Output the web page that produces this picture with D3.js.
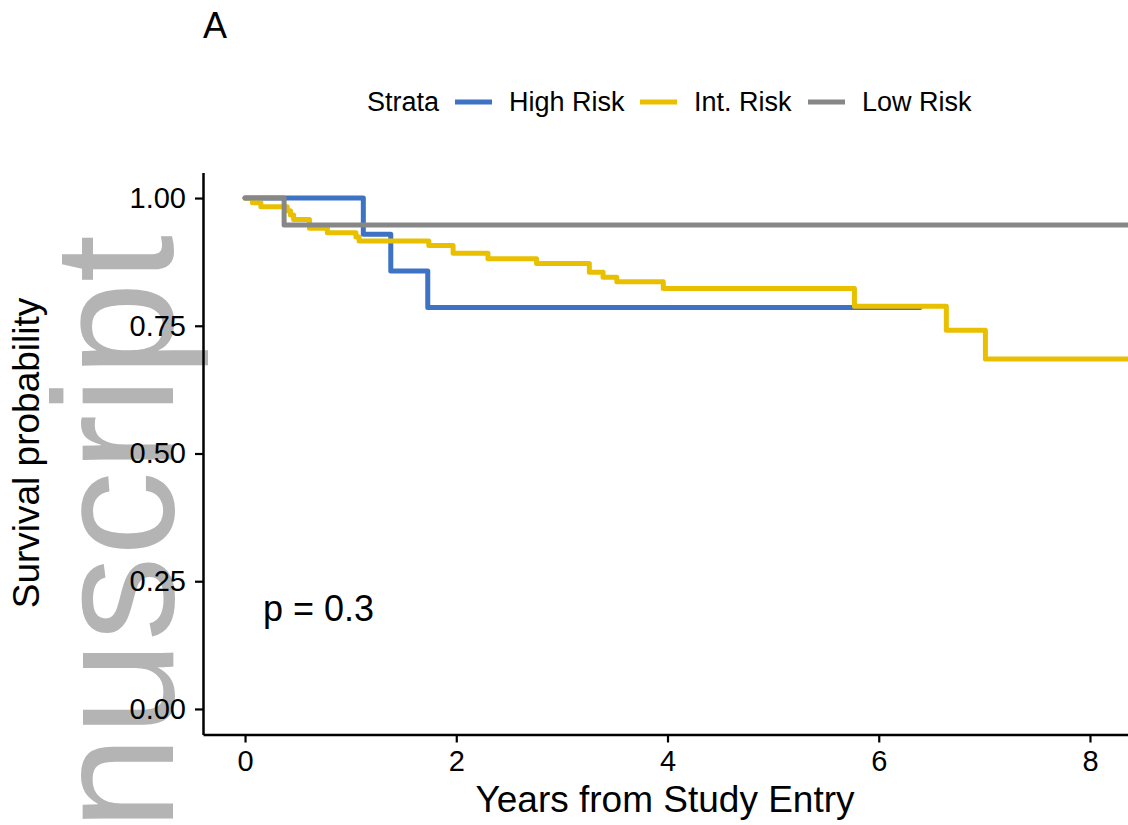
<html>
<head>
<script type="text/javascript" src="https://d3js.org/d3.v7.min.js"></script>
<style>
    body { margin: 0; background: #ffffff; }
    text { font-family: 'Liberation Sans', Arial, sans-serif; fill: #000000; }
</style>
</head>
<body>
<svg id="km" width="1128" height="825"></svg>
<script type="text/javascript">
// data
var strata = ["High Risk", "Int. Risk", "Low Risk"];
var colors = ["#3d72c4", "#e8c000", "#878787"];

var highTime = [0, 1.12, 1.38, 1.73, 6.39];
var highSurv = [1, 0.929, 0.857, 0.786, 0.786];

var intTime = [0, 0.07, 0.15, 0.40, 0.43, 0.46, 0.61, 0.78, 1.05, 1.08, 1.74, 1.97,
               2.30, 2.76, 3.26, 3.39, 3.52, 3.96, 5.77, 6.64, 7.01, 8.36];
var intSurv = [1, 0.991, 0.983, 0.975, 0.967, 0.958, 0.941, 0.932, 0.924, 0.916, 0.907, 0.892,
               0.881, 0.872, 0.855, 0.845, 0.836, 0.823, 0.788, 0.741, 0.685, 0.685];

var lowTime = [0, 0.37, 8.36];
var lowSurv = [1, 0.947, 0.947];

var xTicks = [0, 2, 4, 6, 8];
var yTicks = [0, 0.25, 0.5, 0.75, 1];
var pLabel = "p = 0.3";

var svg = d3.select("#km");

// scales: 0 -> 245px, 8 -> 1090px ; 0 -> 709px, 1 -> 198px
var x = d3.scaleLinear().domain([-0.398, 8.36]).range([203, 1128]);
var y = d3.scaleLinear().domain([-0.05, 1.05]).range([734.5, 172.5]);

// watermark behind everything
svg.append("text")
    .attr("transform", "translate(173,235) rotate(-90)")
    .attr("text-anchor", "end")
    .style("font-size", "170px")
    .style("fill", "#b4b4b4")
    .text("Author Manuscript");

// title letter
svg.append("text")
    .attr("x", 203).attr("y", 38)
    .style("font-size", "36px")
    .text("A");

// legend
var legend = svg.append("g");
legend.append("text").attr("x", 367).attr("y", 111).style("font-size", "27px").text("Strata");
var legX = [455, 640, 808];
strata.forEach(function(s, i) {
    legend.append("line")
        .attr("x1", legX[i]).attr("x2", legX[i] + 37)
        .attr("y1", 102).attr("y2", 102)
        .attr("stroke", colors[i]).attr("stroke-width", 5);
    legend.append("text")
        .attr("x", legX[i] + 54).attr("y", 111)
        .style("font-size", "27px")
        .text(s);
});

// curves
var line = d3.line()
    .x(function(d) { return x(d[0]); })
    .y(function(d) { return y(d[1]); })
    .curve(d3.curveStepAfter);

var series = [
    d3.zip(highTime, highSurv),
    d3.zip(intTime, intSurv),
    d3.zip(lowTime, lowSurv)
];

svg.append("g").selectAll("path")
    .data(series)
    .enter()
    .append("path")
    .attr("d", line)
    .attr("fill", "none")
    .attr("stroke", function(d, i) { return colors[i]; })
    .attr("stroke-width", 5)
    .attr("stroke-linejoin", "round")
    .attr("stroke-linecap", "round");

// axes
var xAxis = svg.append("g")
    .attr("transform", "translate(0,734.5)")
    .call(d3.axisBottom(x).tickValues(xTicks).tickSize(8).tickPadding(8).tickSizeOuter(0));
var yAxis = svg.append("g")
    .attr("transform", "translate(203,0)")
    .call(d3.axisLeft(y).tickValues(yTicks).tickFormat(d3.format(".2f")).tickSize(8).tickPadding(9).tickSizeOuter(0));

[xAxis, yAxis].forEach(function(a) {
    a.select(".domain").attr("stroke", "#000").attr("stroke-width", 2.5);
    a.selectAll(".tick line").attr("stroke", "#000").attr("stroke-width", 2.2);
    a.selectAll(".tick text")
        .style("font-size", "29px")
        .style("font-family", "'Liberation Sans', Arial, sans-serif")
        .attr("fill", "#000");
});

// axis titles
svg.append("text")
    .attr("x", 665).attr("y", 812)
    .attr("text-anchor", "middle")
    .style("font-size", "37px")
    .text("Years from Study Entry");

svg.append("text")
    .attr("transform", "translate(39,453) rotate(-90)")
    .attr("text-anchor", "middle")
    .style("font-size", "37px")
    .text("Survival probability");

// p value
svg.append("text")
    .attr("x", 263).attr("y", 621)
    .style("font-size", "36px")
    .text(pLabel);
</script>
</body>
</html>
